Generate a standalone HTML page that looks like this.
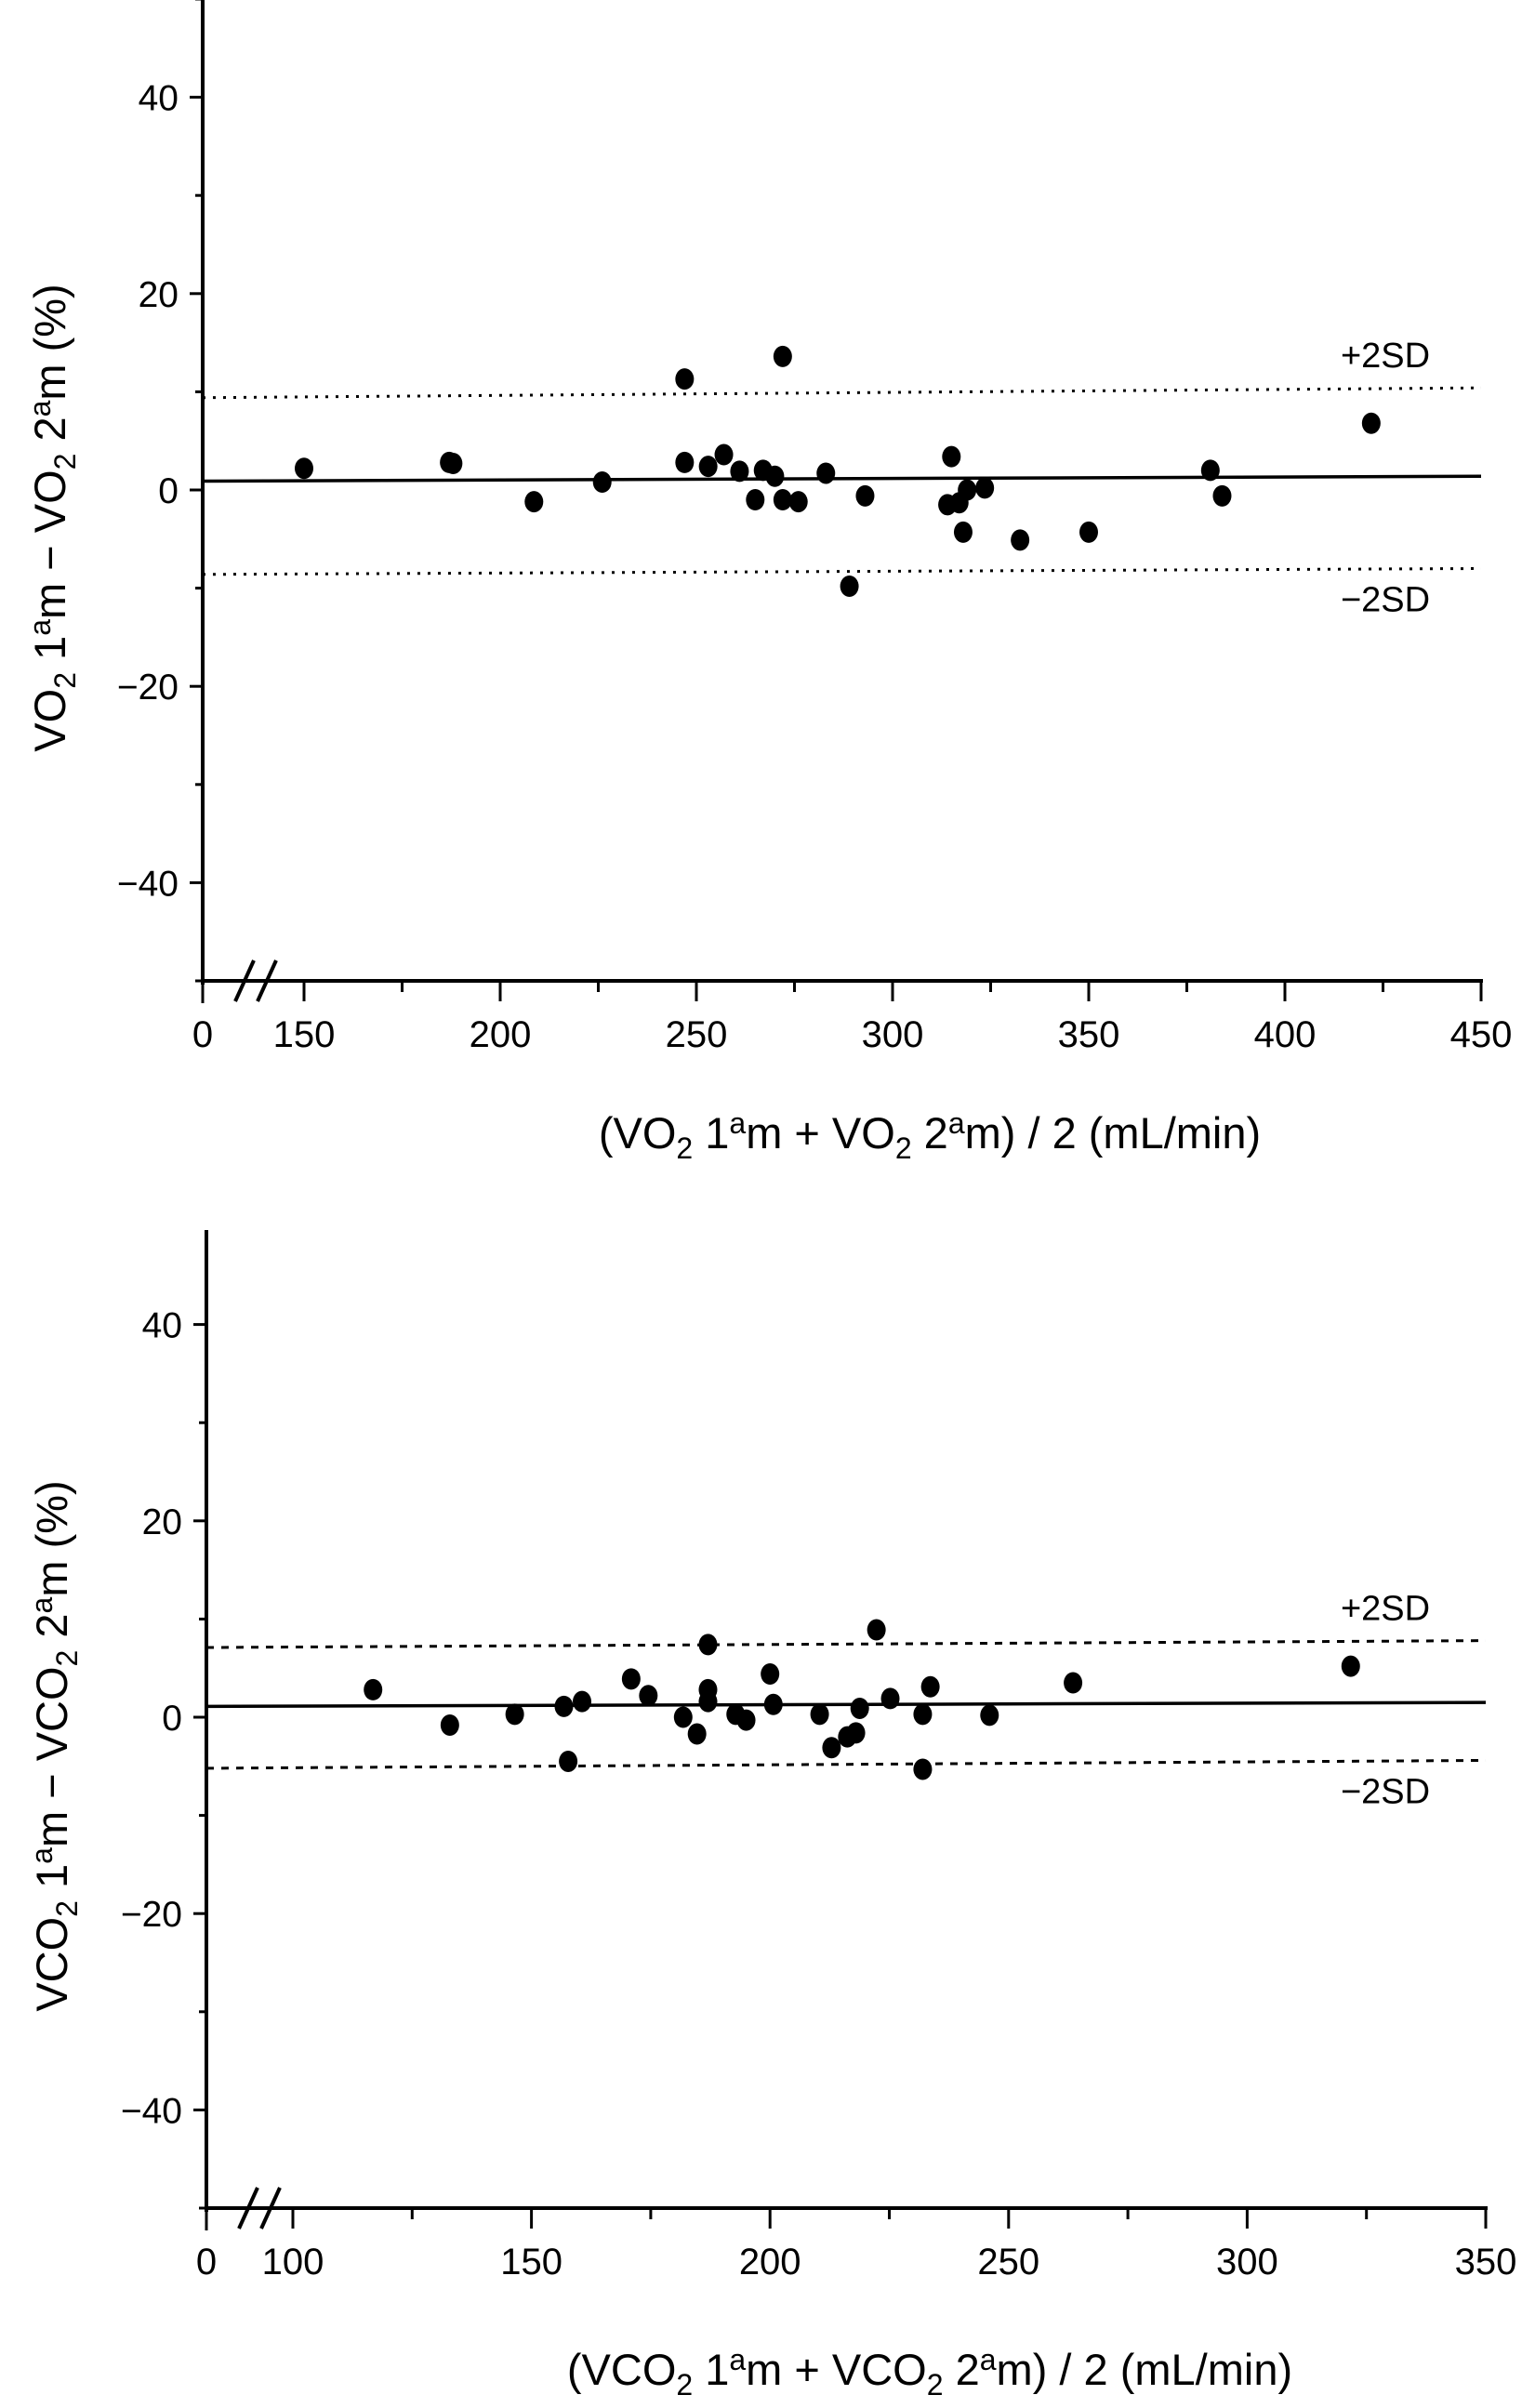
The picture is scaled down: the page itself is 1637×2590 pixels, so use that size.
<!DOCTYPE html>
<html><head><meta charset="utf-8"><style>
html,body{margin:0;padding:0;background:#fff;}
svg{display:block;font-family:"Liberation Sans",sans-serif;}
</style></head><body>
<svg id="chart" width="1637" height="2590" viewBox="0 0 1637 2590" xmlns="http://www.w3.org/2000/svg"></svg>
<script>
// ---- Top chart data (VO2) ----
const vo2X = [150,187,188,208.6,226,247,247,253,257,261,265,267,270,272,272,276,283,289,293,314,315,317,318,319,323.5,332.5,350,381,384,422];
const vo2Y = [2.2,2.8,2.7,-1.2,0.8,11.3,2.8,2.4,3.6,1.9,-1.0,2.0,1.4,-1.0,13.6,-1.2,1.7,-9.8,-0.6,-1.5,3.4,-1.3,-4.3,0,0.2,-5.1,-4.3,2.0,-0.6,6.8];
const vo2Mean = [0.9,1.4];
const vo2Upper = [9.4,10.4];
const vo2Lower = [-8.6,-8.0];
const vo2XTicks = [150,200,250,300,350,400,450];
const vo2YTicks = [-40,-20,0,20,40];
// ---- Bottom chart data (VCO2) ----
const vco2X = [116.8,132.9,146.5,156.8,157.7,160.6,170.9,174.5,181.8,184.7,187,187,187,192.8,195,200,200.7,210.4,212.9,216.2,218,218.8,222.3,225.2,232,232,233.6,246,263.5,321.7];
const vco2Y = [2.8,-0.8,0.3,1.1,-4.5,1.6,3.9,2.2,0,-1.7,7.4,2.8,1.6,0.3,-0.3,4.4,1.3,0.3,-3.1,-2.0,-1.6,0.9,8.9,1.9,-5.3,0.3,3.1,0.2,3.5,5.2];
const vco2Mean = [1.1,1.5];
const vco2Upper = [7.1,7.8];
const vco2Lower = [-5.2,-4.4];
const vco2XTicks = [100,150,200,250,300,350];
const vco2YTicks = [-40,-20,0,20,40];

const NS = "http://www.w3.org/2000/svg";
const svg = document.getElementById('chart');
function el(tag, attrs, parent){
  const e = document.createElementNS(NS, tag);
  for (const k in attrs) e.setAttribute(k, attrs[k]);
  (parent||svg).appendChild(e);
  return e;
}

function drawChart(o){
  const g = el('g', {});
  
  
  const sx = v => o.x0px + (v - o.x0) * o.kx;
  const sy = v => o.y0px - v * o.ky;
  const axisY = sy(-50);
  const right = sx(o.xmax);
  const ya = el('line', {x1:o.axisX, y1:o.axisTop, x2:o.axisX, y2:axisY+4, stroke:'#000','stroke-width':4}, g);
  
  
  const xa = el('line', {x1:o.axisX-2, y1:axisY, x2:right+2, y2:axisY, stroke:'#000','stroke-width':4}, g);
  
  
  for (let v=-50; v<=50; v+=10){
    const y = sy(v);
    if (y < o.axisTop-2) continue;
    const major = o.yTicks.includes(v);
    el('line', {x1:o.axisX-(major?14:8), y1:y, x2:o.axisX, y2:y, stroke:'#000','stroke-width':3}, g);
  }
  o.yTicks.forEach(v=>{
    const t = el('text', {x:o.axisX-26, y:sy(v)+14, 'text-anchor':'end','font-size':39}, g);
    t.textContent = v<0 ? '\u2212'+(-v) : String(v);
    
    
  });
  const xt0 = o.xTicks[0];
  for (let v=xt0; v<=o.xmax; v+=25){
    const major = o.xTicks.includes(v);
    el('line', {x1:sx(v), y1:axisY, x2:sx(v), y2:axisY+(major?22:12), stroke:'#000','stroke-width':3}, g);
  }
  el('line', {x1:o.axisX, y1:axisY, x2:o.axisX, y2:axisY+24, stroke:'#000','stroke-width':3}, g);
  const zero = el('text', {x:o.axisX, y:axisY+71, 'text-anchor':'middle','font-size':40}, g);
  zero.textContent = '0';
  
  
  o.xTicks.forEach(v=>{
    const t = el('text', {x:sx(v), y:axisY+71, 'text-anchor':'middle','font-size':40}, g);
    t.textContent = String(v);
    
    
  });
  const bx = o.axisX + 45;
  [0,24].forEach(d=>{
    const b = el('line', {x1:bx+d-10, y1:axisY+22, x2:bx+d+10, y2:axisY-22, stroke:'#000','stroke-width':4}, g);
    
    
  });
  const dash = o.dotted ? '3,8' : '8,8';
  const lines = [[o.mean,'mean-line',null],[o.upper,'upper-2sd-line',dash],[o.lower,'lower-2sd-line',dash]];
  lines.forEach(([vals,name,d])=>{
    const a = {x1:o.axisX, y1:sy(vals[0]), x2:right, y2:sy(vals[1]), stroke:'#000','stroke-width':d?3:3.5};
    if (d) a['stroke-dasharray'] = d;
    const l = el('line', a, g);
    
    
  });
  const up = el('text', {x:o.sdLabelX, y:sy(o.upper[1])-22, 'text-anchor':'middle','font-size':38}, g);
  up.textContent = '+2SD';
  
  
  const lo = el('text', {x:o.sdLabelX, y:sy(o.lower[1])+46, 'text-anchor':'middle','font-size':38}, g);
  lo.textContent = '\u22122SD';
  
  
  o.xs.forEach((xv,i)=>{
    const p = el('ellipse', {cx:sx(xv), cy:sy(o.ys[i]), rx:10, ry:11.5, fill:'#000'}, g);
    
    
  });
  const xt = el('text', {x:1000, y:o.xTitleY, 'text-anchor':'middle','font-size':47}, g);
  xt.innerHTML = '('+o.sym+'<tspan font-size="32" dy="11">2</tspan><tspan dy="-11"> 1</tspan><tspan font-size="32" dy="-16">a</tspan><tspan dy="16">m + '+o.sym+'</tspan><tspan font-size="32" dy="11">2</tspan><tspan dy="-11"> 2</tspan><tspan font-size="32" dy="-16">a</tspan><tspan dy="16">m) / 2 (mL/min)</tspan>';
  
  
  const yt = el('text', {x:0, y:0, 'text-anchor':'middle','font-size':47, transform:'translate('+o.yTitleX+','+o.yTitleY+') rotate(-90)'}, g);
  yt.innerHTML = o.sym+'<tspan font-size="32" dy="11">2</tspan><tspan dy="-11"> 1</tspan><tspan font-size="32" dy="-16">a</tspan><tspan dy="16">m \u2212 '+o.sym+'</tspan><tspan font-size="32" dy="11">2</tspan><tspan dy="-11"> 2</tspan><tspan font-size="32" dy="-16">a</tspan><tspan dy="16">m  (%)</tspan>';
  
  
}

drawChart({name:'vo2-chart', sym:'VO', xs:vo2X, ys:vo2Y, mean:vo2Mean, upper:vo2Upper, lower:vo2Lower,
  xTicks:vo2XTicks, yTicks:vo2YTicks, x0:150, x0px:327, kx:4.22, xmax:450, y0px:527, ky:10.56,
  axisX:218, axisTop:0, dotted:true, sdLabelX:1490, xTitleY:1235, yTitleX:70, yTitleY:557});
drawChart({name:'vco2-chart', sym:'VCO', xs:vco2X, ys:vco2Y, mean:vco2Mean, upper:vco2Upper, lower:vco2Lower,
  xTicks:vco2XTicks, yTicks:vco2YTicks, x0:100, x0px:315, kx:5.132, xmax:350, y0px:1847, ky:10.56,
  axisX:222, axisTop:1323, dotted:false, sdLabelX:1490, xTitleY:2565, yTitleX:72, yTitleY:1878});
</script>
</body></html>
